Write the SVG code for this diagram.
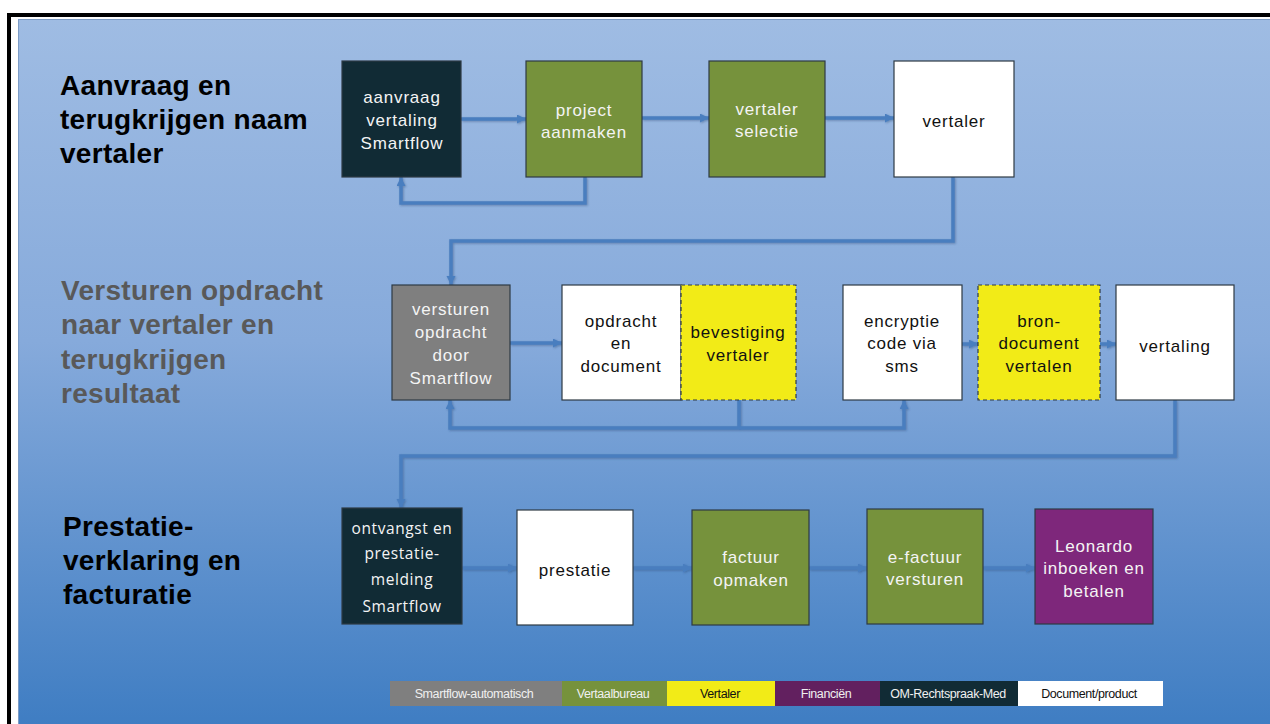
<svg xmlns="http://www.w3.org/2000/svg" width="1270" height="724" viewBox="0 0 1270 724">
<defs>
<linearGradient id="bg" x1="0" y1="0" x2="0" y2="1">
<stop offset="0" stop-color="#9fbce3"/>
<stop offset="0.45" stop-color="#86aadb"/>
<stop offset="1" stop-color="#3d7cc2"/>
</linearGradient>
<marker id="ah" markerUnits="userSpaceOnUse" markerWidth="10" markerHeight="10" refX="9" refY="4.5" orient="auto">
<path d="M0,0 L9,4.5 L0,9 z" fill="#4a7ebf"/>
</marker>
<filter id="sh" x="-5%" y="-5%" width="110%" height="110%">
<feDropShadow dx="1" dy="1" stdDeviation="0.8" flood-color="#2a4d7a" flood-opacity="0.45"/>
</filter>
</defs>
<style>
.box{stroke:#2e3a44;stroke-width:1.2}
.dash{stroke:#2e3a44;stroke-width:1.2;stroke-dasharray:4 3}
.teal{fill:#112b35}
.green{fill:#76923c}
.white{fill:#ffffff}
.yellow{fill:#f2eb17}
.gray{fill:#7f7f7f}
.purple{fill:#7e277b}
.t{font-family:"Liberation Sans",Arial,sans-serif;font-size:17px;letter-spacing:0.8px;text-anchor:middle}
.tw{fill:#f4f4f4}
.tb{fill:#111111}
.title{font-family:"Liberation Sans",Arial,sans-serif;font-size:28px;font-weight:bold;letter-spacing:0.3px}
.conn{fill:none;stroke:#4a7ebf;stroke-width:3.5}
.lg{font-family:"Liberation Sans",Arial,sans-serif;font-size:12.5px;text-anchor:middle;letter-spacing:-0.4px}
</style>
<rect x="0" y="0" width="1270" height="724" fill="#ffffff"/>
<rect x="9" y="15" width="1275" height="720" fill="#ffffff" stroke="#000000" stroke-width="4"/>
<rect x="18.5" y="19.5" width="1265" height="715" fill="url(#bg)" stroke="#7d9cc6" stroke-width="1"/>

<g id="titles">
<text class="title" fill="#000000" x="60" y="95">Aanvraag en</text>
<text class="title" fill="#000000" x="60" y="129">terugkrijgen naam</text>
<text class="title" fill="#000000" x="60" y="163">vertaler</text>
<text class="title" fill="#595959" x="61" y="300">Versturen opdracht</text>
<text class="title" fill="#595959" x="61" y="334">naar vertaler en</text>
<text class="title" fill="#595959" x="61" y="369">terugkrijgen</text>
<text class="title" fill="#595959" x="61" y="403">resultaat</text>
<text class="title" fill="#000000" x="63" y="536">Prestatie-</text>
<text class="title" fill="#000000" x="63" y="570">verklaring en</text>
<text class="title" fill="#000000" x="63" y="604">facturatie</text>
</g>

<g id="connectors" filter="url(#sh)">
<path class="conn" d="M461 119 H526" marker-end="url(#ah)"/>
<path class="conn" d="M642 118 H709" marker-end="url(#ah)"/>
<path class="conn" d="M825 118 H894" marker-end="url(#ah)"/>
<path class="conn" d="M585 177 V203 H401 V177" marker-end="url(#ah)"/>
<path class="conn" d="M953 177 V241 H451 V285" marker-end="url(#ah)"/>
<path class="conn" d="M510 343 H562" marker-end="url(#ah)"/>
<path class="conn" d="M962 344 H978" marker-end="url(#ah)"/>
<path class="conn" d="M1100 344 H1116" marker-end="url(#ah)"/>
<path class="conn" d="M739 400 V428 H450 V400" marker-end="url(#ah)"/>
<path class="conn" d="M739 428 H904 V400" marker-end="url(#ah)"/>
<path class="conn" d="M1175 400 V456 H401 V508" marker-end="url(#ah)"/>
<path class="conn" d="M462 568 H517" marker-end="url(#ah)"/>
<path class="conn" d="M633 568 H692" marker-end="url(#ah)"/>
<path class="conn" d="M809 568 H867" marker-end="url(#ah)"/>
<path class="conn" d="M983 568 H1035" marker-end="url(#ah)"/>
</g>

<g id="n-aanvraag">
<rect class="box teal" x="342" y="61" width="119" height="116"/>
<text class="t tw" x="402" y="103">aanvraag</text>
<text class="t tw" x="402" y="126">vertaling</text>
<text class="t tw" x="402" y="149">Smartflow</text>
</g>
<g id="n-project">
<rect class="box green" x="526" y="61" width="116" height="116"/>
<text class="t tw" x="584" y="116">project</text>
<text class="t tw" x="584" y="138">aanmaken</text>
</g>
<g id="n-selectie">
<rect class="box green" x="709" y="61" width="116" height="116"/>
<text class="t tw" x="767" y="115">vertaler</text>
<text class="t tw" x="767" y="137">selectie</text>
</g>
<g id="n-vertaler">
<rect class="box white" x="894" y="61" width="120" height="116"/>
<text class="t tb" x="954" y="127">vertaler</text>
</g>

<g id="n-versturen">
<rect class="box gray" x="392" y="285" width="118" height="115"/>
<text class="t tw" x="451" y="315">versturen</text>
<text class="t tw" x="451" y="338">opdracht</text>
<text class="t tw" x="451" y="361">door</text>
<text class="t tw" x="451" y="384">Smartflow</text>
</g>
<g id="n-opdracht">
<rect class="box white" x="562" y="285" width="119" height="115"/>
<text class="t tb" x="621" y="327">opdracht</text>
<text class="t tb" x="621" y="349">en</text>
<text class="t tb" x="621" y="372">document</text>
</g>
<g id="n-bevestiging">
<rect class="dash yellow" x="681" y="285" width="115" height="115"/>
<text class="t tb" x="738" y="338">bevestiging</text>
<text class="t tb" x="738" y="361">vertaler</text>
</g>
<g id="n-encryptie">
<rect class="box white" x="843" y="285" width="119" height="115"/>
<text class="t tb" x="902" y="327">encryptie</text>
<text class="t tb" x="902" y="349">code via</text>
<text class="t tb" x="902" y="372">sms</text>
</g>
<g id="n-bron">
<rect class="dash yellow" x="978" y="285" width="122" height="115"/>
<text class="t tb" x="1039" y="327">bron-</text>
<text class="t tb" x="1039" y="349">document</text>
<text class="t tb" x="1039" y="372">vertalen</text>
</g>
<g id="n-vertaling">
<rect class="box white" x="1116" y="285" width="118" height="115"/>
<text class="t tb" x="1175" y="352">vertaling</text>
</g>

<g id="n-ontvangst">
<rect class="box teal" x="342" y="508" width="120" height="116"/>
<g font-family="'Open Sans','Noto Sans',sans-serif" font-size="15.5" fill="#f4f4f4" text-anchor="middle" letter-spacing="0.6">
<text x="402" y="534">ontvangst en</text>
<text x="402" y="559">prestatie-</text>
<text x="402" y="585">melding</text>
<text x="402" y="612">Smartflow</text>
</g>
</g>
<g id="n-prestatie">
<rect class="box white" x="517" y="510" width="116" height="115"/>
<text class="t tb" x="575" y="576">prestatie</text>
</g>
<g id="n-factuur">
<rect class="box green" x="692" y="510" width="117" height="115"/>
<text class="t tw" x="751" y="563">factuur</text>
<text class="t tw" x="751" y="586">opmaken</text>
</g>
<g id="n-efactuur">
<rect class="box green" x="867" y="509" width="116" height="115"/>
<text class="t tw" x="925" y="563">e-factuur</text>
<text class="t tw" x="925" y="585">versturen</text>
</g>
<g id="n-leonardo">
<rect class="box purple" x="1035" y="509" width="118" height="115"/>
<text class="t tw" x="1094" y="552">Leonardo</text>
<text class="t tw" x="1094" y="574">inboeken en</text>
<text class="t tw" x="1094" y="597">betalen</text>
</g>

<g id="legend">
<rect x="390" y="681" width="172" height="25" fill="#7f7f7f"/>
<rect x="562" y="681" width="105" height="25" fill="#76923c"/>
<rect x="667" y="681" width="108" height="25" fill="#f2eb17"/>
<rect x="775" y="681" width="105" height="25" fill="#62205f"/>
<rect x="880" y="681" width="138" height="25" fill="#112b35"/>
<rect x="1018" y="681" width="145" height="25" fill="#ffffff"/>
<text class="lg" fill="#f0f0f0" x="474" y="698">Smartflow-automatisch</text>
<text class="lg" fill="#f0f0f0" x="613" y="698">Vertaalbureau</text>
<text class="lg" fill="#111111" x="720" y="698">Vertaler</text>
<text class="lg" fill="#f0f0f0" x="826" y="698">Financiën</text>
<text class="lg" fill="#f0f0f0" x="948" y="698">OM-Rechtspraak-Med</text>
<text class="lg" fill="#111111" x="1089" y="698">Document/product</text>
</g>
</svg>
